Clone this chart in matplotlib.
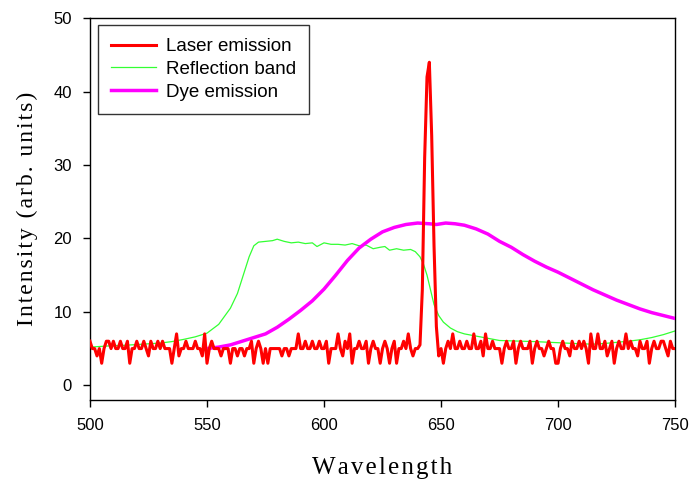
import numpy as np
import matplotlib
matplotlib.use('Agg')
import matplotlib.pyplot as plt

plt.rcParams['font.family'] = ['Liberation Sans', 'DejaVu Sans']

# ---- data ----
# laser emission, 1 nm steps from 500 to 750 nm
laser_wl = np.arange(500, 751, 1)
laser_val = [
    6, 5, 5, 4, 5, 3, 5, 6, 6, 5,
    6, 5, 5, 6, 5, 5, 6, 3, 5, 5,
    6, 5, 5, 6, 5, 4, 6, 5, 5, 6,
    5, 6, 5, 5, 5, 3, 5, 7, 4, 5,
    5, 6, 5, 5, 5, 6, 5, 5, 4, 7,
    3, 5, 6, 5, 5, 5, 4, 5, 5, 5,
    3, 5, 5, 4, 5, 5, 4, 5, 5, 6,
    3, 5, 6, 5, 3, 5, 3, 5, 5, 5,
    5, 5, 4, 5, 5, 4, 5, 5, 5, 7,
    5, 5, 6, 5, 5, 6, 5, 5, 6, 5,
    5, 6, 3, 5, 5, 5, 7, 5, 4, 6,
    5, 7, 3, 5, 5, 6, 5, 5, 6, 3,
    5, 6, 5, 5, 3, 5, 6, 5, 3, 5,
    6, 3, 5, 5, 6, 5, 7, 5, 4, 5,
    5, 5.5, 13, 31, 42, 44, 34, 19, 8, 4,
    5, 3, 5, 6, 5, 7, 5, 5, 6, 5,
    5, 6, 5, 5, 7, 5, 5, 6, 4, 7,
    5, 5, 6, 5, 5, 5, 3, 5, 6, 5,
    5, 6, 3, 5, 6, 5, 5, 5, 6, 3,
    5, 6, 5, 5, 4, 5, 6, 5, 5, 3,
    3, 5, 6, 5, 5, 4, 6, 5, 5, 6,
    5, 6, 5, 3, 7, 5, 5, 7, 5, 5,
    6, 4, 5, 6, 3, 5, 6, 5, 5, 7,
    5, 6, 5, 5, 4, 6, 5, 5, 6, 3,
    5, 6, 5, 5, 6, 6, 5, 4, 6, 5,
    5,
]

# reflection band
refl_wl = [500, 505, 510, 515, 520, 525, 530, 535, 540, 545, 550, 555, 560,
           563, 566, 568, 570, 572, 575, 578, 580, 583, 586, 589, 592, 595,
           597, 600, 603, 606, 609, 612, 615, 618, 621, 624, 626, 628, 631,
           634, 637, 639, 641, 642.5, 644, 645.5, 647, 649, 651, 654, 657,
           660, 665, 670, 675, 680, 690, 700, 710, 715, 720, 725, 730, 735,
           740, 745, 750]
refl_val = [5.2, 5.3, 5.4, 5.45, 5.55, 5.65, 5.75, 5.95, 6.25, 6.6, 7.1, 8.3,
            10.5, 12.5, 15.5, 17.5, 19.0, 19.5, 19.6, 19.7, 19.9, 19.6, 19.4,
            19.5, 19.3, 19.4, 18.9, 19.4, 19.2, 19.2, 19.1, 19.3, 19.0, 19.1,
            18.6, 18.8, 18.9, 18.4, 18.6, 18.4, 18.5, 18.2, 17.5, 16.5, 15.0,
            13.0, 11.0, 9.5, 8.6, 7.8, 7.3, 7.0, 6.7, 6.4, 6.1, 6.05, 5.95,
            5.8, 5.65, 5.6, 5.7, 5.85, 6.0, 6.2, 6.5, 6.9, 7.4]

# dye emission
dye_wl = [550, 555, 560, 565, 570, 575, 580, 585, 590, 595, 600, 605, 610,
          615, 620, 625, 630, 635, 640, 645, 648, 652, 656, 660, 665, 670,
          675, 680, 685, 690, 695, 700, 705, 710, 715, 720, 725, 730, 735,
          740, 745, 750]
dye_val = [5.0, 5.2, 5.5, 6.0, 6.5, 7.0, 7.9, 9.0, 10.2, 11.5, 13.1, 15.0,
           17.0, 18.7, 19.9, 20.9, 21.5, 21.9, 22.1, 22.0, 21.9, 22.1, 22.0,
           21.8, 21.3, 20.6, 19.6, 18.8, 17.8, 16.9, 16.1, 15.4, 14.6, 13.8,
           13.0, 12.3, 11.6, 11.0, 10.4, 9.9, 9.5, 9.1]

x_ticks = [500, 550, 600, 650, 700, 750]
y_ticks = [0, 10, 20, 30, 40, 50]

fig = plt.figure(figsize=(6.9, 4.79), dpi=100)
ax = fig.add_axes([0.1304, 0.165, 0.848, 0.797])

ax.plot(refl_wl, refl_val, color='#33ff33', lw=0.9, label='Reflection band', zorder=2)
ax.plot(dye_wl, dye_val, color='#ff00ff', lw=2.5, label='Dye emission', zorder=3)
ax.plot(laser_wl, laser_val, color='#ff0000', lw=2.2, label='Laser emission', zorder=4)

ax.set_xlim(500, 750)
ax.set_ylim(-2, 50)
ax.set_xticks(x_ticks)
ax.set_yticks(y_ticks)
ax.tick_params(axis='both', direction='out', length=5, width=1, labelsize=12, pad=8)
ax.tick_params(top=False, right=False)
for s in ax.spines.values():
    s.set_linewidth(1)

# letter-spaced serif axis titles
serif = ['Liberation Serif', 'DejaVu Serif']
hs = '\u200a'
ax.set_xlabel(hs.join('Wavelength'), family=serif, fontsize=18, labelpad=17)
ax.set_ylabel(hs.join('Intensity (arb. units)'), family=serif, fontsize=17, labelpad=11)

h, l = ax.get_legend_handles_labels()
order = [2, 0, 1]
leg = ax.legend([h[i] for i in order], [l[i] for i in order],
                loc='upper left', bbox_to_anchor=(98 / 690, 1 - 25 / 479),
                bbox_transform=fig.transFigure, fontsize=13.5,
                fancybox=False, framealpha=1, edgecolor='#333333',
                handlelength=2.4, handletextpad=0.5, borderpad=0.7,
                labelspacing=0.3, borderaxespad=0)
leg.get_frame().set_linewidth(1)

fig.savefig('out.png', dpi=100)
